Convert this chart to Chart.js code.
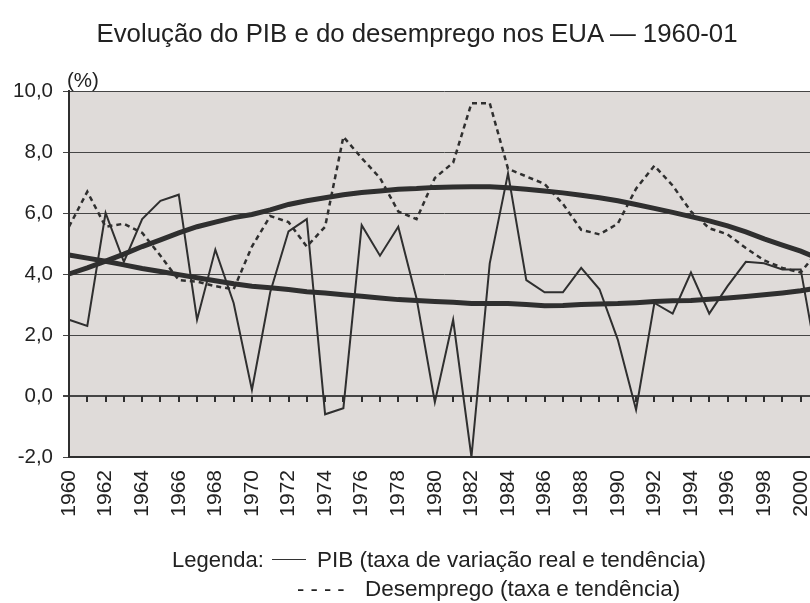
<!DOCTYPE html>
<html>
<head>
<meta charset="utf-8">
<script src="https://cdn.jsdelivr.net/npm/chart.js@4"></script>
<style>
  html, body { margin: 0; padding: 0; background: #fff; overflow: hidden; }
  #wrap { position: relative; width: 810px; height: 603px; overflow: hidden; }
  canvas { position: absolute; left: 0; top: 0; }
  .t { position: absolute; font-family: "Liberation Sans", Arial, sans-serif; color: #222; white-space: nowrap; line-height: 1; }
</style>
</head>
<body>
<div id="wrap">
  <canvas id="pibChart" width="830" height="603"></canvas>
  <div class="t" style="left:0; width:834px; text-align:center; top:21px; font-size:25.8px;">Evolução do PIB e do desemprego nos EUA — 1960-01</div>
  <div class="t" style="left:67px; top:70px; font-size:20.5px;">(%)</div>
  <div class="t" style="left:172px; top:549px; font-size:22px;">Legenda:</div>
  <div style="position:absolute; left:272px; top:559px; width:34px; border-top:1.5px solid #333;"></div>
  <div class="t" style="left:317px; top:549px; font-size:22.5px;">PIB (taxa de variação real e tendência)</div>
  <div class="t" style="left:297px; top:578px; font-size:22px;">- - - -</div>
  <div class="t" style="left:365px; top:578px; font-size:22.5px;">Desemprego (taxa e tendência)</div>
</div>
<script>
// Anos (categorias)
const years = [1960, 1961, 1962, 1963, 1964, 1965, 1966, 1967, 1968, 1969,
  1970, 1971, 1972, 1973, 1974, 1975, 1976, 1977, 1978, 1979,
  1980, 1981, 1982, 1983, 1984, 1985, 1986, 1987, 1988, 1989,
  1990, 1991, 1992, 1993, 1994, 1995, 1996, 1997, 1998, 1999,
  2000, 2001];

// anos com rótulo no eixo
const tickYears = [1960, 1962, 1964, 1966, 1968, 1970, 1972, 1974, 1976, 1978,
  1980, 1982, 1984, 1986, 1988, 1990, 1992, 1994, 1996, 1998, 2000];

// PIB - taxa de variação real (%)
const pib = [2.5, 2.3, 6.0, 4.4, 5.8, 6.4, 6.6, 2.5, 4.8, 3.05,
  0.2, 3.4, 5.4, 5.8, -0.6, -0.4, 5.6, 4.6, 5.55, 3.2,
  -0.2, 2.5, -2.0, 4.35, 7.3, 3.8, 3.4, 3.4, 4.2, 3.5,
  1.85, -0.45, 3.05, 2.7, 4.05, 2.7, 3.6, 4.4, 4.35, 4.15,
  4.15, 0.8];

// PIB - tendência
const pibTend = [4.62, 4.52, 4.42, 4.3, 4.18, 4.08, 3.98, 3.88, 3.78, 3.68,
  3.6, 3.55, 3.49, 3.42, 3.38, 3.32, 3.27, 3.21, 3.16, 3.13,
  3.1, 3.07, 3.03, 3.03, 3.03, 3.0, 2.96, 2.97, 3.0, 3.02,
  3.03, 3.06, 3.1, 3.12, 3.13, 3.17, 3.21, 3.26, 3.32, 3.38,
  3.45, 3.55];

// Taxa de desemprego (%)
const desemprego = [5.55, 6.7, 5.55, 5.65, 5.35, 4.6, 3.8, 3.75, 3.6, 3.5,
  4.9, 5.9, 5.7, 4.9, 5.55, 8.5, 7.8, 7.15, 6.05, 5.8,
  7.15, 7.65, 9.6, 9.6, 7.45, 7.2, 6.95, 6.3, 5.45, 5.3,
  5.65, 6.8, 7.55, 6.9, 6.05, 5.5, 5.3, 4.85, 4.45, 4.2,
  4.05, 4.8];

// Desemprego - tendência
const desTend = [4.0, 4.2, 4.42, 4.65, 4.9, 5.12, 5.35, 5.55, 5.7, 5.85,
  5.95, 6.1, 6.28, 6.4, 6.5, 6.6, 6.67, 6.72, 6.78, 6.8,
  6.84, 6.85, 6.86, 6.86, 6.83, 6.78, 6.72, 6.66, 6.58, 6.5,
  6.4, 6.28, 6.15, 6.02, 5.88, 5.74, 5.58, 5.38, 5.15, 4.95,
  4.75, 4.5];

const FONT = '"Liberation Sans", Arial, sans-serif';
const INK = '#2f2f2f';

// fundo cinzento da área do gráfico + marcas na linha do zero
const plotStyle = {
  id: 'plotStyle',
  beforeDraw(chart) {
    const { ctx, chartArea: a } = chart;
    ctx.save();
    ctx.fillStyle = '#dfdbd9';
    ctx.fillRect(a.left, a.top, a.right - a.left, a.bottom - a.top);
    ctx.restore();
  },
  beforeDatasetsDraw(chart) {
    const { ctx } = chart;
    const xs = chart.scales.x, ys = chart.scales.y;
    const y0 = ys.getPixelForValue(0);
    ctx.save();
    ctx.strokeStyle = INK;
    ctx.lineWidth = 2;
    ctx.beginPath();
    years.forEach((yr, i) => {
      if (i === 0) return;
      const px = Math.round(xs.getPixelForValue(i));
      ctx.moveTo(px, y0);
      ctx.lineTo(px, y0 + 6);
    });
    ctx.stroke();
    ctx.restore();
  }
};

const ctx = document.getElementById('pibChart').getContext('2d');

new Chart(ctx, {
  type: 'line',
  data: {
    labels: years,
    datasets: [
      { label: 'PIB tendência', data: pibTend, borderColor: INK, borderWidth: 5 },
      { label: 'Desemprego tendência', data: desTend, borderColor: INK, borderWidth: 5 },
      { label: 'Desemprego', data: desemprego, borderColor: INK, borderWidth: 2.5, borderDash: [5, 4] },
      { label: 'PIB', data: pib, borderColor: INK, borderWidth: 2 }
    ]
  },
  options: {
    responsive: false,
    animation: false,
    elements: {
      point: { radius: 0 },
      line: { tension: 0, borderJoinStyle: 'miter' }
    },
    layout: { padding: { top: 91, right: 11, left: 0, bottom: 0 } },
    plugins: {
      legend: { display: false },
      tooltip: { enabled: false }
    },
    scales: {
      x: {
        grid: { display: false },
        border: { display: true, color: INK, width: 2 },
        ticks: {
          autoSkip: false,
          maxRotation: 90,
          minRotation: 90,
          padding: 5,
          color: '#222',
          font: { family: FONT, size: 21 },
          callback: function(value, index) {
            return tickYears.includes(years[index]) ? String(years[index]) : '';
          }
        },
        afterFit: function(scale) {
          scale.height = 146;
          scale.paddingLeft = 0;
          scale.paddingRight = 0;
        }
      },
      y: {
        min: -2,
        max: 10,
        grid: {
          color: '#454545',
          lineWidth: c => (c.tick && c.tick.value === 0 ? 2 : 1),
          tickLength: 6
        },
        border: { color: INK, width: 2 },
        ticks: {
          stepSize: 2,
          padding: 10,
          color: '#222',
          font: { family: FONT, size: 20.5 },
          callback: v => v.toFixed(1).replace('.', ',')
        },
        afterFit: function(scale) { scale.width = 69; }
      }
    }
  },
  plugins: [plotStyle]
});
</script>
</body>
</html>
